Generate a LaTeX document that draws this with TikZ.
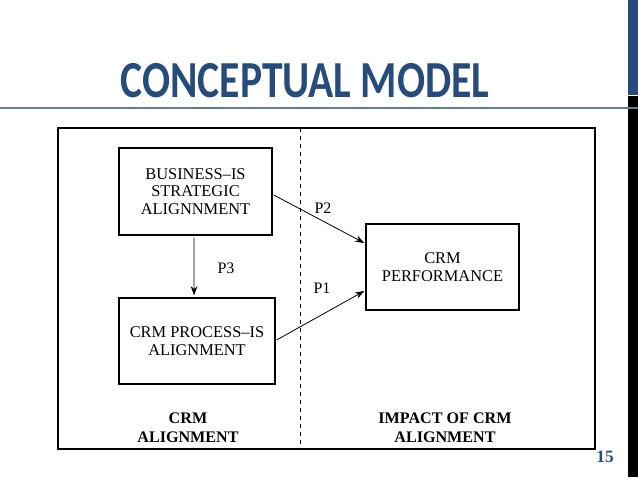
\documentclass[tikz,border=0pt]{standalone}
\usepackage{fontspec}
\setmainfont{Liberation Serif}
\newfontfamily\titlefont{Carlito}
\usetikzlibrary{arrows.meta}
\definecolor{titleblue}{RGB}{38,76,124}
\definecolor{rulecol}{RGB}{95,125,155}
\tikzset{
  box/.style={draw,line width=0.9pt,inner sep=0pt,align=center,font=\fontsize{12.3}{13}\selectfont},
  blbl/.style={align=center,font=\fontsize{12.1}{14.2}\selectfont\bfseries,inner sep=0pt},
  conn/.style={-{Stealth[length=7pt,width=5pt]},line width=0.6pt},
  plbl/.style={font=\fontsize{12}{13.5}\selectfont,inner sep=0pt}
}
\begin{document}
\begin{tikzpicture}[x=0.75pt,y=-0.75pt]
\useasboundingbox (0,0) rectangle (638,479);
\fill[white] (0,0) rectangle (638,479);
% right bars
\fill[titleblue] (628,0) rectangle (638,95);
\fill[black] (628,96) rectangle (638,477);
% rule
\draw[rulecol,line width=0.8pt] (0,108) -- (638,108);
% title
\node[text=titleblue,font=\titlefont\bfseries\fontsize{39}{40}\selectfont,anchor=base,xscale=0.80,inner sep=0pt] (title) at (305,97) {CONCEPTUAL MODEL};
% frame
\draw[line width=0.9pt] (58,128) rectangle (595,449);
\coordinate (dtop) at (300,128);
\coordinate (dbot) at (300,449);
\draw[dashed,line width=0.6pt] (dtop) -- (dbot);
% boxes
\node[box,minimum width=114.75pt,minimum height=65.25pt] (b1) at (195.5,191.5) {BUSINESS–IS\\STRATEGIC\\ALIGNNMENT};
\node[box,minimum width=117pt,minimum height=64.5pt] (b2) at (197,341) {CRM PROCESS–IS\\ALIGNMENT};
\node[box,minimum width=114.75pt,minimum height=64.5pt] (b3) at (442.5,267) {CRM\\PERFORMANCE};
% connectors
\draw[conn] ([xshift=-1.1pt,yshift=-1.5pt]b1.south) -- ([xshift=-2.2pt,yshift=1.5pt]b2.north);
\draw[conn] ([xshift=0.8pt,yshift=-2.6pt]b1.east) -- ([xshift=-0.8pt,yshift=18pt]b3.west);
\draw[conn] ([xshift=0.8pt,yshift=0.8pt]b2.east) -- ([xshift=-0.8pt,yshift=-18pt]b3.west);
\node[plbl] (p3) at (226,268) {P3};
\node[plbl] (p2) at (323,208) {P2};
\node[plbl] (p1) at (322,288) {P1};
% bottom labels
\node[blbl] (l1) at (188,428) {CRM\\ALIGNMENT};
\node[blbl] (l2) at (445,428) {IMPACT OF CRM\\ALIGNMENT};
% page number
\node[text=titleblue,font=\fontsize{13}{14}\selectfont\bfseries,inner sep=0pt] (pg) at (605,457) {15};
\end{tikzpicture}
\end{document}
